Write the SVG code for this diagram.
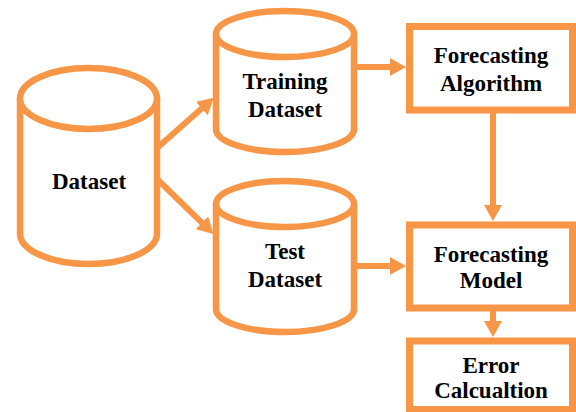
<svg xmlns="http://www.w3.org/2000/svg" width="576" height="412" viewBox="0 0 576 412">
<style>
.sh{fill:#fff;stroke:#F79646;stroke-width:6.5;}
.bx{fill:#fff;stroke:#F79646;stroke-width:7;}
.cn{fill:none;stroke:#F79646;stroke-width:6;}
.t{font-family:"Liberation Serif","Times New Roman",serif;font-weight:bold;font-size:23px;fill:#000;text-anchor:middle;}
</style>
<defs>
<marker id="ah" viewBox="0 0 16 18" refX="4" refY="9" markerWidth="16" markerHeight="18" markerUnits="userSpaceOnUse" orient="auto">
<path d="M0,0 L16,9 L0,18 Z" fill="#F79646"/>
</marker>
</defs>
<rect width="576" height="412" fill="#fff"/>
<g id="dataset">
<path class="sh" d="M20,98.5 L20,233.5 A68.5,30.5 0 0 0 157,233.5 L157,98.5"/>
<ellipse class="sh" cx="88.5" cy="98.5" rx="68.5" ry="30.5"/>
<text class="t" x="89" y="189">Dataset</text>
</g>
<g id="training">
<path class="sh" d="M216,34 L216,129 A69,23 0 0 0 354,129 L354,34"/>
<ellipse class="sh" cx="285" cy="34" rx="69" ry="23"/>
<text class="t" x="285" y="89">Training</text>
<text class="t" x="285" y="117">Dataset</text>
</g>
<g id="test">
<path class="sh" d="M216,204 L216,309 A69,23 0 0 0 354,309 L354,204"/>
<ellipse class="sh" cx="285" cy="204" rx="69" ry="23"/>
<text class="t" x="285" y="259">Test</text>
<text class="t" x="285" y="287">Dataset</text>
</g>
<g id="algorithm">
<rect class="bx" x="409.5" y="26.5" width="163" height="83.5"/>
<text class="t" x="491" y="63">Forecasting</text>
<text class="t" x="491" y="91">Algorithm</text>
</g>
<g id="model">
<rect class="bx" x="409.5" y="225" width="163" height="83"/>
<text class="t" x="491" y="262">Forecasting</text>
<text class="t" x="491" y="288">Model</text>
</g>
<g id="error">
<rect class="bx" x="409.5" y="341" width="163" height="68.5"/>
<text class="t" x="491" y="373">Error</text>
<text class="t" x="491" y="398">Calcualtion</text>
</g>
<g id="connectors">
<line class="cn" x1="157" y1="148" x2="204.8" y2="105.8" marker-end="url(#ah)"/>
<line class="cn" x1="157" y1="179" x2="204.8" y2="225.6" marker-end="url(#ah)"/>
<line class="cn" x1="357" y1="67" x2="394" y2="67" marker-end="url(#ah)"/>
<line class="cn" x1="357" y1="266" x2="394" y2="266" marker-end="url(#ah)"/>
<line class="cn" x1="493" y1="113" x2="493" y2="209" marker-end="url(#ah)"/>
<line class="cn" x1="493" y1="311" x2="493" y2="325" marker-end="url(#ah)"/>
</g>
</svg>
